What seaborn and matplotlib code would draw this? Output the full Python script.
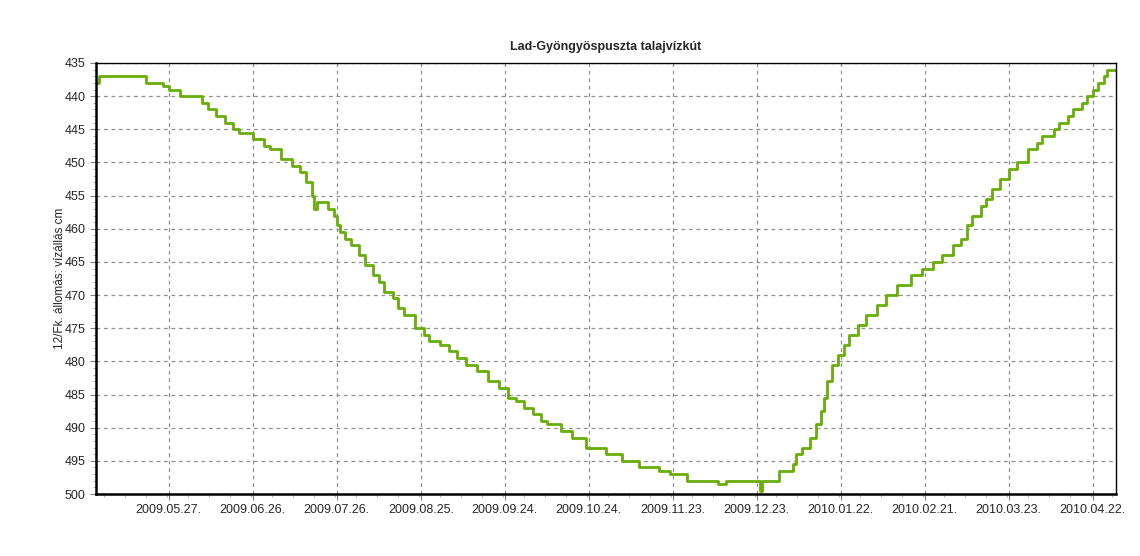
import pandas as pd
import matplotlib.pyplot as plt
import matplotlib.dates as mdates
from matplotlib.ticker import MultipleLocator
import seaborn as sns

# water level readings (cm below reference), step changes
dates = [
    "2009-05-01", "2009-05-02", "2009-05-19", "2009-05-25", "2009-05-27", "2009-05-31",
    "2009-06-08", "2009-06-10", "2009-06-13", "2009-06-16", "2009-06-19", "2009-06-21",
    "2009-06-26", "2009-06-30", "2009-07-02", "2009-07-06", "2009-07-10", "2009-07-13",
    "2009-07-15", "2009-07-17", "2009-07-18", "2009-07-19", "2009-07-23", "2009-07-25",
    "2009-07-26", "2009-07-27", "2009-07-29", "2009-07-31", "2009-08-03", "2009-08-05",
    "2009-08-08", "2009-08-10", "2009-08-12", "2009-08-15", "2009-08-17", "2009-08-19",
    "2009-08-23", "2009-08-26", "2009-08-28", "2009-09-01", "2009-09-04", "2009-09-07",
    "2009-09-10", "2009-09-14", "2009-09-18", "2009-09-22", "2009-09-25", "2009-09-28",
    "2009-10-01", "2009-10-04", "2009-10-07", "2009-10-09", "2009-10-14", "2009-10-18",
    "2009-10-23", "2009-10-30", "2009-11-05", "2009-11-11", "2009-11-18", "2009-11-22",
    "2009-11-28", "2009-12-09", "2009-12-12", "2009-12-24", "2009-12-25", "2009-12-31",
    "2010-01-05", "2010-01-06", "2010-01-08", "2010-01-11", "2010-01-13", "2010-01-15",
    "2010-01-16", "2010-01-17", "2010-01-19", "2010-01-21", "2010-01-23", "2010-01-25",
    "2010-01-28", "2010-01-31", "2010-02-04", "2010-02-07", "2010-02-11", "2010-02-16",
    "2010-02-20", "2010-02-24", "2010-02-27", "2010-03-03", "2010-03-06", "2010-03-08",
    "2010-03-10", "2010-03-13", "2010-03-15", "2010-03-17", "2010-03-20", "2010-03-23",
    "2010-03-26", "2010-03-30", "2010-04-02", "2010-04-04", "2010-04-08", "2010-04-10",
    "2010-04-13", "2010-04-15", "2010-04-18", "2010-04-20", "2010-04-22", "2010-04-24",
    "2010-04-26", "2010-04-27", "2010-04-30",
]
levels = [
    438, 437, 438, 438.5, 439, 440,
    441, 442, 443, 444, 445, 445.5,
    446.5, 447.5, 448, 449.5, 450.5, 451.5,
    453, 455, 457, 456, 457, 458,
    459.5, 460.5, 461.5, 462.5, 464, 465.5,
    467, 468, 469.5, 470.5, 472, 473,
    475, 476, 477, 477.5, 478.5, 479.5,
    480.5, 481.5, 483, 484, 485.5, 486,
    487, 488, 489, 489.5, 490.5, 491.5,
    493, 494, 495, 496, 496.5, 497,
    498, 498.5, 498, 499.5, 498, 496.5,
    495.5, 494, 493, 491.5, 489.5, 487.5,
    485.5, 483, 480.5, 479, 477.5, 476,
    474.5, 473, 471.5, 470, 468.5, 467,
    466, 465, 464, 462.5, 461.5, 459.5,
    458, 456.5, 455.5, 454, 452.5, 451,
    450, 448, 447, 446, 445, 444,
    443, 442, 441, 440, 439, 438,
    437, 436, 436,
]
tick_dates = pd.date_range("2009-05-27", periods=12, freq="30D")

title = "Lad-Gyöngyöspuszta talajvízkút"
ylabel = "12/Fk. állomás: vízállás cm"

df = pd.DataFrame({"date": pd.to_datetime(dates), "level": levels})

sns.set_style("white")
plt.rcParams["font.family"] = ["Liberation Sans", "DejaVu Sans"]

fig = plt.figure(figsize=(11.4, 5.56), dpi=100)
ax = fig.add_axes([0.0842, 0.1115, 0.8948, 0.7752])

sns.lineplot(data=df, x="date", y="level", ax=ax, color="#68ad08",
             linewidth=2.0, drawstyle="steps-post", sort=False)

ax.set_xlim(pd.Timestamp("2009-05-01"), pd.Timestamp("2010-04-30 08:00"))
ax.set_ylim(500, 435)

ax.set_xticks(tick_dates)
ax.xaxis.set_major_formatter(mdates.DateFormatter("%Y.%m.%d."))
ax.set_xticks(pd.date_range("2009-05-04", "2010-04-30", freq="7.5D"), minor=True)
ax.yaxis.set_major_locator(MultipleLocator(5))
ax.yaxis.set_minor_locator(MultipleLocator(1))

ax.grid(True, which="major", linestyle=(0, (3, 3)), color="#909090", linewidth=0.9)
ax.tick_params(axis="both", which="major", labelsize=9, length=4, color="#808080",
               direction="out", bottom=True, left=True)
ax.tick_params(axis="both", which="minor", length=2, color="#a0a0a0",
               direction="out", bottom=True, left=True)

for side in ["left", "bottom"]:
    ax.spines[side].set_linewidth(1.8)
for side in ["top", "right"]:
    ax.spines[side].set_linewidth(1.0)
for s in ax.spines.values():
    s.set_color("black")

ax.set_xlabel("")
ax.set_ylabel(ylabel, fontsize=8.5, labelpad=-1)
ax.set_title(title, fontsize=9, fontweight="bold", pad=9)

fig.savefig("out.png", dpi=100, facecolor="white")
